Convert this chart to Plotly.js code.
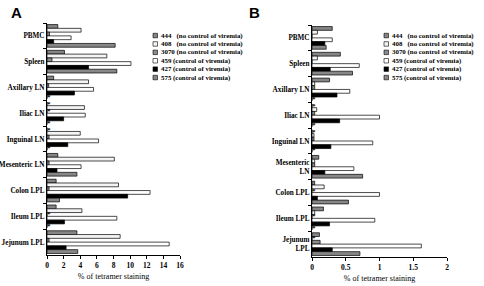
<!DOCTYPE html>
<html><head><meta charset="utf-8">
<script src="https://cdn.plot.ly/plotly-3.0.1.min.js"></script>
<style>html,body{margin:0;padding:0;background:#fff}#c{width:484px;height:286px}</style>
</head><body><div id="c"></div>
<script>
// ---- data ----
const categoriesA = ['PBMC','Spleen','Axillary LN','Iliac LN','Inguinal LN','Mesenteric LN','Colon LPL','Ileum LPL','Jejunum LPL'];
const categoriesB = ['PBMC','Spleen','Axillary LN','Iliac LN','Inguinal LN','Mesenteric<br>LN','Colon LPL','Ileum LPL','Jejunum<br>LPL'];
const seriesNames = ['444','408','3070','459','427','575'];
const legendLabels = ['444   (no control of viremia)','408   (no control of viremia)','3070 (no control of viremia)','459 (control of viremia)','427 (control of viremia)','575 (control of viremia)'];

// Panel A values (% of tetramer staining)
const a444  = [1.3, 2.1, 0.8, 0,   0,    1.3,  1.1,  1.1, 3.6];
const a408  = [4.1, 7.2, 5.0, 4.5, 4.0,  8.1,  8.6,  4.2, 8.8];
const a3070 = [0.3, 0.6, 0.2, 0,   0.25, 0.25, 0.25, 0,   0.25];
const a459  = [2.9, 10.1,5.6, 4.6, 6.2,  4.1,  12.4, 8.4, 14.7];
const a427  = [0.8, 5.0, 3.3, 2.0, 2.5,  1.2,  9.7,  2.1, 2.3];
const a575  = [8.2, 8.4, 0,   0,   0,    3.6,  1.5,  0,   3.7];
// asterisk markers (1 = *)
const a444Star  = [0,0,0,1,1,0,0,0,0];
const a408Star  = [0,0,0,0,0,0,0,0,0];
const a3070Star = [0,0,0,1,0,0,0,1,0];
const a459Star  = [0,0,0,0,0,0,0,0,0];
const a427Star  = [0,0,0,0,0,0,0,0,0];
const a575Star  = [0,0,1,1,1,0,0,1,0];

// Panel B values
const b444  = [0.30, 0.42, 0.26, 0,    0,    0.10, 0.04, 0.17, 0.11];
const b408  = [0.08, 0.08, 0.04, 0.07, 0.03, 0.04, 0.18, 0.04, 0];
const b3070 = [0,    0,    0.04, 0.04, 0.03, 0.04, 0,    0,    0.12];
const b459  = [0.30, 0.70, 0.56, 1.00, 0.90, 0.62, 1.00, 0.93, 1.62];
const b427  = [0.19, 0.27, 0.37, 0.41, 0.28, 0.19, 0.08, 0.26, 0.30];
const b575  = [0.21, 0.60, 0,    0,    0,    0.75, 0.54, 0,    0.71];
const b444Star  = [0,0,0,1,1,0,0,0,0];
const b408Star  = [0,0,0,0,0,0,0,0,1];
const b3070Star = [0,0,0,0,0,0,1,1,0];
const b459Star  = [0,0,0,0,0,0,0,0,0];
const b427Star  = [0,0,0,0,0,0,0,0,0];
const b575Star  = [0,0,1,1,1,0,0,1,0];

// ---- styling ----
const colors = ['#858585','#f4f4f4','#8b8b8b','#ffffff','#000000','#878787'];
const serif = 'Liberation Serif, Times New Roman, serif';

const valsA = [a444,a408,a3070,a459,a427,a575];
const starsA = [a444Star,a408Star,a3070Star,a459Star,a427Star,a575Star];
const valsB = [b444,b408,b3070,b459,b427,b575];
const starsB = [b444Star,b408Star,b3070Star,b459Star,b427Star,b575Star];

const traces = [];
function addPanel(vals, stars, cats, xa, ya){
  vals.forEach((v,i)=>{
    traces.push({
      type:'bar', orientation:'h', name: seriesNames[i],
      x: v, y: cats, xaxis: xa, yaxis: ya,
      marker:{color: colors[i], line:{color:'#000', width:0.7}},
      text: stars[i].map(s => s ? '*' : ''),
      textposition:'outside', constraintext:'none', cliponaxis:false,
      textfont:{family: serif, size:7, color:'#000', weight:'bold'},
      showlegend:false, hoverinfo:'x+y+name'
    });
  });
}
addPanel(valsA, starsA, categoriesA, 'x', 'y');
addPanel(valsB, starsB, categoriesB, 'x2', 'y2');

const W = 484, H = 286;
const px = v => v / W, py = v => 1 - v / H;

function xaxisCfg(domain, range, dtick){
  return {domain, range, dtick, tick0:0, showgrid:false, zeroline:false, color:'#000',
    showline:true, linecolor:'#000', linewidth:1, ticks:'outside', ticklen:3, tickcolor:'#000',
    tickfont:{family: serif, size:7.5, color:'#000', weight:'bold'},
    title:{text:'% of tetramer staining', font:{family: serif, size:8, color:'#000'}, standoff:4},
    fixedrange:true};
}
function yaxisCfg(domain, anchor){
  return {domain, anchor, type:'category', autorange:'reversed', showgrid:false, zeroline:false, color:'#000',
    showline:true, linecolor:'#000', linewidth:1, ticks:'outside', ticklen:3, tickcolor:'#000',
    tickson:'boundaries', tickfont:{family: serif, size:7.2, color:'#000', weight:'bold'},
    fixedrange:true};
}

const shapes = [], annotations = [];
function addLegend(x0, yTop){
  legendLabels.forEach((lab,i)=>{
    const yc = yTop + i*8.4;
    shapes.push({type:'rect', xref:'paper', yref:'paper', x0:px(x0), x1:px(x0+4.5), y0:py(yc+2.3), y1:py(yc-2.2),
      fillcolor: colors[i], line:{color:'#000', width:0.6}});
    annotations.push({xref:'paper', yref:'paper', x:px(x0+5.5), y:py(yc), xanchor:'left', yanchor:'middle',
      text: lab, showarrow:false, font:{family: serif, size:6.9, color:'#000', weight:'bold'}});
  });
}
addLegend(153, 35.5);
addLegend(384, 35.5);
annotations.push({xref:'paper', yref:'paper', x:px(9), y:py(12), xanchor:'left', yanchor:'middle', text:'A', showarrow:false,
  font:{family:'Liberation Sans, Arial, sans-serif', size:15, color:'#000', weight:'bold'}});
annotations.push({xref:'paper', yref:'paper', x:px(247), y:py(12), xanchor:'left', yanchor:'middle', text:'B', showarrow:false,
  font:{family:'Liberation Sans, Arial, sans-serif', size:15, color:'#000', weight:'bold'}});

const layout = {
  width: W, height: H, margin:{l:0,r:0,t:0,b:0}, paper_bgcolor:'#fff', plot_bgcolor:'#fff',
  font:{family: serif, color:'#000'},
  barmode:'group', bargap:0.12, bargroupgap:0, showlegend:false,
  xaxis: Object.assign(xaxisCfg([px(47), px(180)], [0,16], 2), {anchor:'y'}),
  yaxis: yaxisCfg([py(255), py(23)], 'x'),
  xaxis2: Object.assign(xaxisCfg([px(312), px(447)], [0,2], 0.5), {anchor:'y2'}),
  yaxis2: yaxisCfg([py(257), py(25)], 'x2'),
  shapes, annotations
};
Plotly.newPlot('c', traces, layout, {staticPlot:true, displayModeBar:false});
</script></body></html>
